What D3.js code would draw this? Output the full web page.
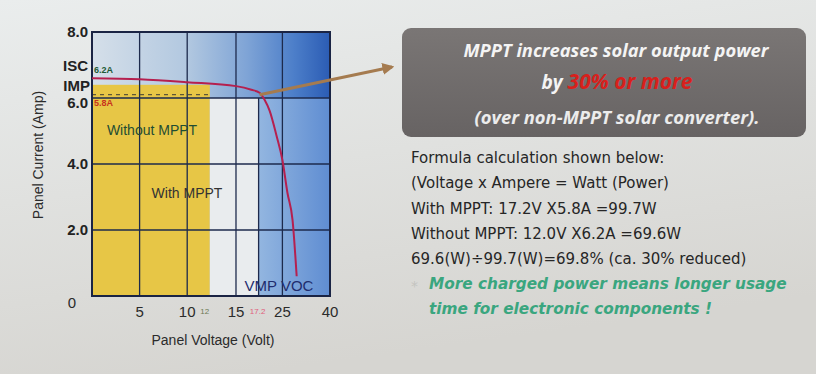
<!DOCTYPE html>
<html>
<head>
<meta charset="utf-8">
<script src="https://cdn.jsdelivr.net/npm/d3@7"></script>
<style>
  body { margin: 0; background: #dedfdd; }
  svg { display: block; }
</style>
</head>
<body>
<script>
'use strict';

// x axis is hand drawn (not linear): these are the break values
const xBreaks = [0, 5, 10, 12, 15, 17.2, 25, 40];
const xTicks = [5, 10, 15, 25, 40];
const xSmallTicks = [12, 17.2];
const yTicks = [2, 4, 6, 8];

// I-V curve (volt, amp)
const curveV = [0, 5, 10, 15, 16.5, 17.5, 19.2, 20.8, 23.1, 25, 26.6, 28.2, 29.5];
const curveI = [6.6, 6.57, 6.48, 6.36, 6.25, 6.16, 5.94, 5.62, 4.85, 4.12, 3.12, 2.3, 0.6];

// shaded regions [v0, v1, iTop]
const withoutMppt = [0, 12, 6.4];
const gapZone = [12, 17.2, 6.0];
const mpptZone = [17.2, 40, 6.0];
const impLine = 6.1;

const formulaLines = [
  "Formula calculation shown below:",
  "(Voltage x Ampere = Watt (Power)",
  "With MPPT: 17.2V X5.8A =99.7W",
  "Without MPPT: 12.0V X6.2A =69.6W",
  "69.6(W)\u00f799.7(W)=69.8% (ca. 30% reduced)"
];
const noteLines = [
  "More charged power means longer usage",
  "time for electronic components !"
];

const W = 816, H = 374;
const plot = {left: 92, right: 330, top: 32, bottom: 296};
const pw = plot.right - plot.left;

const svg = d3.select("body").append("svg")
    .attr("width", W)
    .attr("height", H);

const defs = svg.append("defs");

const bg = defs.append("linearGradient").attr("id", "bg")
    .attr("x1", 0).attr("y1", 0).attr("x2", 0.3).attr("y2", 1);
bg.append("stop").attr("offset", 0).attr("stop-color", "#eaeded");
bg.append("stop").attr("offset", 1).attr("stop-color", "#d6d5d1");

const sky = defs.append("linearGradient").attr("id", "sky");
sky.append("stop").attr("offset", 0).attr("stop-color", "#d5dfe9");
sky.append("stop").attr("offset", 0.4).attr("stop-color", "#b2c8e0");
sky.append("stop").attr("offset", 0.65).attr("stop-color", "#7fa4d6");
sky.append("stop").attr("offset", 0.85).attr("stop-color", "#4c7ec9");
sky.append("stop").attr("offset", 1).attr("stop-color", "#2b5cb4");

const zone = defs.append("linearGradient").attr("id", "zone");
zone.append("stop").attr("offset", 0).attr("stop-color", "#93b6e0");
zone.append("stop").attr("offset", 1).attr("stop-color", "#5f8dd2");

const box = defs.append("linearGradient").attr("id", "box")
    .attr("x1", 0).attr("y1", 0).attr("x2", 0).attr("y2", 1);
box.append("stop").attr("offset", 0).attr("stop-color", "#7a7675");
box.append("stop").attr("offset", 1).attr("stop-color", "#676363");

defs.append("marker")
    .attr("id", "head")
    .attr("viewBox", "0 0 10 10")
    .attr("refX", 8).attr("refY", 5)
    .attr("markerWidth", 4).attr("markerHeight", 4)
    .attr("orient", "auto")
  .append("path")
    .attr("d", "M0,0L10,5L0,10z")
    .attr("fill", "#a57b4f");

svg.append("rect")
    .attr("width", W)
    .attr("height", H)
    .attr("fill", "url(#bg)");

const x = d3.scaleLinear()
    .domain(xBreaks)
    .range([0, .2, .4, .495, .605, .70, .80, 1].map(f => plot.left + f * pw));
const y = d3.scaleLinear()
    .domain([0, 8])
    .range([plot.bottom, plot.top]);

// plot background
svg.append("rect")
    .attr("x", plot.left).attr("y", plot.top)
    .attr("width", pw).attr("height", plot.bottom - plot.top)
    .attr("fill", "url(#sky)");

function region(r, fill) {
  svg.append("rect")
      .attr("x", x(r[0]))
      .attr("y", y(r[2]))
      .attr("width", x(r[1]) - x(r[0]))
      .attr("height", y(0) - y(r[2]))
      .attr("fill", fill);
}
region(withoutMppt, "#e7c646");
region(gapZone, "#e9ecee");
region(mpptZone, "url(#zone)");

// grid
const grid = svg.append("g")
    .attr("stroke", "#1d2a4c")
    .attr("stroke-width", 1.3);
grid.selectAll(".gv")
    .data(xTicks.slice(0, -1).concat([17.2]))
  .join("line")
    .attr("x1", d => x(d)).attr("x2", d => x(d))
    .attr("y1", d => d === 17.2 ? y(6) : plot.top)
    .attr("y2", plot.bottom);
grid.selectAll(".gh")
    .data(yTicks.slice(0, -1))
  .join("line")
    .attr("x1", plot.left).attr("x2", plot.right)
    .attr("y1", d => y(d)).attr("y2", d => y(d));

svg.append("line")
    .attr("x1", x(0)).attr("x2", x(12))
    .attr("y1", y(impLine)).attr("y2", y(impLine))
    .attr("stroke", "#5e5636")
    .attr("stroke-width", 1.2)
    .attr("stroke-dasharray", "4,4");

svg.append("rect")
    .attr("x", plot.left).attr("y", plot.top)
    .attr("width", pw).attr("height", plot.bottom - plot.top)
    .attr("fill", "none")
    .attr("stroke", "#1a2444")
    .attr("stroke-width", 2);

// I-V curve
const line = d3.line()
    .x(d => x(d[0]))
    .y(d => y(d[1]))
    .curve(d3.curveMonotoneX);
svg.append("path")
    .datum(d3.zip(curveV, curveI))
    .attr("d", line)
    .attr("fill", "none")
    .attr("stroke", "#b5204f")
    .attr("stroke-width", 2);

// arrow from knee to text box
svg.append("line")
    .attr("x1", x(17.5)).attr("y1", y(impLine))
    .attr("x2", 392).attr("y2", 67)
    .attr("stroke", "#a57b4f")
    .attr("stroke-width", 3)
    .attr("marker-end", "url(#head)");

// axis labels
const font = "'Liberation Sans', Arial, sans-serif";

svg.selectAll(".xt")
    .data(xTicks)
  .join("text")
    .attr("x", d => x(d))
    .attr("y", 317)
    .attr("text-anchor", "middle")
    .attr("font-family", font)
    .attr("font-size", 15)
    .attr("fill", "#2b2b2b")
    .text(d => d);

svg.selectAll(".xs")
    .data(xSmallTicks)
  .join("text")
    .attr("x", d => x(d) - (d === 12 ? 5 : 1))
    .attr("y", 314)
    .attr("text-anchor", "middle")
    .attr("font-family", font)
    .attr("font-size", 8)
    .attr("fill", d => d === 12 ? "#6d7a55" : "#e0607c")
    .text(d => d);

svg.append("text")
    .attr("x", 72).attr("y", 308)
    .attr("text-anchor", "middle")
    .attr("font-family", font)
    .attr("font-size", 15)
    .attr("fill", "#2b2b2b")
    .text("0");

svg.selectAll(".yt")
    .data(yTicks)
  .join("text")
    .attr("x", 88)
    .attr("y", d => y(d) + (d === 6 ? 10 : 5))
    .attr("text-anchor", "end")
    .attr("font-family", font)
    .attr("font-weight", "bold")
    .attr("font-size", 15)
    .attr("fill", "#222")
    .text(d => d.toFixed(1));

svg.append("text")
    .attr("x", 88).attr("y", 71)
    .attr("text-anchor", "end")
    .attr("font-family", font)
    .attr("font-weight", "bold")
    .attr("font-size", 15)
    .attr("fill", "#222")
    .text("ISC");
svg.append("text")
    .attr("x", 90).attr("y", 91)
    .attr("text-anchor", "end")
    .attr("font-family", font)
    .attr("font-weight", "bold")
    .attr("font-size", 15)
    .attr("fill", "#222")
    .text("IMP");

svg.append("text")
    .attr("x", 94).attr("y", 73)
    .attr("font-family", font)
    .attr("font-weight", "bold")
    .attr("font-size", 9)
    .attr("fill", "#1f5a35")
    .text("6.2A");
svg.append("text")
    .attr("x", 94).attr("y", 106)
    .attr("font-family", font)
    .attr("font-weight", "bold")
    .attr("font-size", 9)
    .attr("fill", "#c8321c")
    .text("5.8A");

svg.append("text")
    .attr("transform", "translate(43,155) rotate(-90)")
    .attr("text-anchor", "middle")
    .attr("font-family", font)
    .attr("font-size", 14)
    .attr("fill", "#2b2b2b")
    .text("Panel Current (Amp)");

svg.append("text")
    .attr("x", 213).attr("y", 345)
    .attr("text-anchor", "middle")
    .attr("font-family", font)
    .attr("font-size", 14)
    .attr("fill", "#2b2b2b")
    .text("Panel Voltage (Volt)");

svg.append("text")
    .attr("x", 152).attr("y", 135)
    .attr("text-anchor", "middle")
    .attr("font-family", font)
    .attr("font-size", 14)
    .attr("fill", "#1f4d33")
    .text("Without MPPT");
svg.append("text")
    .attr("x", 187).attr("y", 198)
    .attr("text-anchor", "middle")
    .attr("font-family", font)
    .attr("font-size", 14)
    .attr("fill", "#333")
    .text("With MPPT");
svg.append("text")
    .attr("x", 279).attr("y", 291)
    .attr("text-anchor", "middle")
    .attr("font-family", font)
    .attr("font-size", 15)
    .attr("fill", "#1f2d6e")
    .text("VMP VOC");

// callout box
svg.append("rect")
    .attr("x", 402).attr("y", 28)
    .attr("width", 404).attr("height", 109)
    .attr("rx", 9)
    .attr("fill", "url(#box)");

const boxFont = "'Open Sans', sans-serif";
svg.append("text")
    .attr("x", 616).attr("y", 57)
    .attr("text-anchor", "middle")
    .attr("font-family", boxFont)
    .attr("font-style", "italic")
    .attr("font-weight", "bold")
    .attr("font-size", 18)
    .attr("fill", "#f4f4f4")
    .attr("textLength", 305)
    .attr("lengthAdjust", "spacingAndGlyphs")
    .text("MPPT increases solar output power");

const l2 = svg.append("text")
    .attr("x", 617).attr("y", 89)
    .attr("text-anchor", "middle")
    .attr("font-family", boxFont)
    .attr("font-style", "italic")
    .attr("font-weight", "bold")
    .attr("font-size", 19);
l2.append("tspan").attr("fill", "#f4f4f4").text("by ");
l2.append("tspan").attr("fill", "#d8201c").attr("font-size", 21).text("30% or more");

svg.append("text")
    .attr("x", 617).attr("y", 124)
    .attr("text-anchor", "middle")
    .attr("font-family", boxFont)
    .attr("font-style", "italic")
    .attr("font-weight", "bold")
    .attr("font-size", 17)
    .attr("fill", "#ececec")
    .attr("textLength", 285)
    .attr("lengthAdjust", "spacingAndGlyphs")
    .text("(over non-MPPT solar converter).");

// formula
const mono = "'DejaVu Sans', Verdana, sans-serif";
svg.selectAll(".fl")
    .data(formulaLines)
  .join("text")
    .attr("x", 411)
    .attr("y", (d, i) => 163 + i * 25.3)
    .attr("font-family", mono)
    .attr("font-size", 15)
    .attr("fill", "#262626")
    .text(d => d);

svg.append("text")
    .attr("x", 411).attr("y", 291)
    .attr("font-family", mono)
    .attr("font-size", 14)
    .attr("fill", "#c4c4c0")
    .text("*");
svg.selectAll(".nl")
    .data(noteLines)
  .join("text")
    .attr("x", 429)
    .attr("y", (d, i) => 289 + i * 25)
    .attr("font-family", mono)
    .attr("font-style", "italic")
    .attr("font-weight", "bold")
    .attr("font-size", 15.3)
    .attr("fill", "#3aa67f")
    .text(d => d);
</script>
</body>
</html>
